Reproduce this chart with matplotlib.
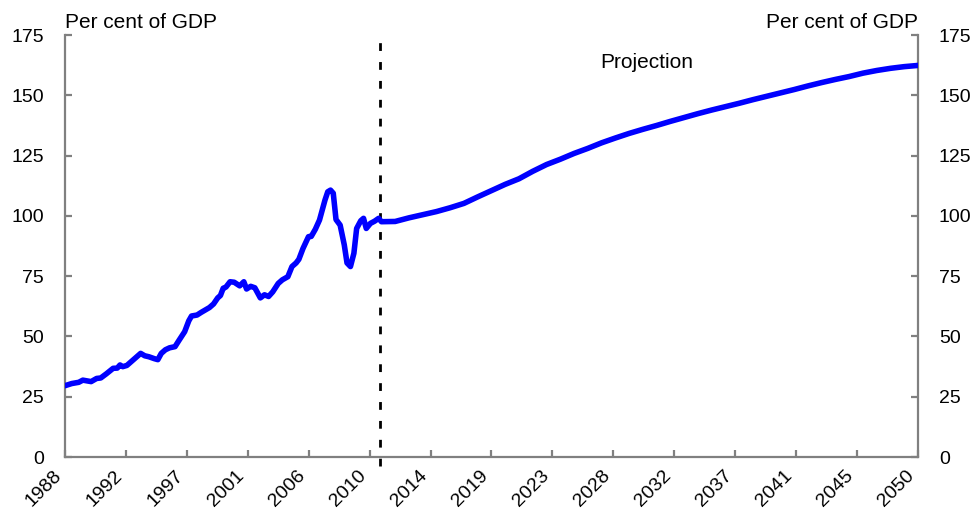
import numpy as np
import matplotlib
matplotlib.use("Agg")
import matplotlib.pyplot as plt

# historical series, per cent of GDP
hist_years = [1988.0, 1988.5, 1989.0, 1989.3, 1989.9, 1990.3, 1990.6, 1991.0, 1991.5, 1991.8,
              1992.0, 1992.2, 1992.5, 1992.8, 1993.2, 1993.5, 1993.8, 1994.1, 1994.5, 1994.75,
              1995.0, 1995.3, 1995.6, 1996.0, 1996.3, 1996.7, 1997.0, 1997.2, 1997.6, 1997.9,
              1998.2, 1998.5, 1998.8, 1999.1, 1999.3, 1999.5, 1999.7, 2000.0, 2000.3, 2000.7,
              2001.0, 2001.2, 2001.5, 2001.8, 2002.2, 2002.5, 2002.8, 2003.1, 2003.5, 2003.8,
              2004.2, 2004.5, 2004.8, 2005.0, 2005.3, 2005.7, 2005.9, 2006.2, 2006.5, 2006.9,
              2007.1, 2007.3, 2007.5, 2007.7, 2008.0, 2008.3, 2008.5, 2008.75, 2009.0, 2009.2,
              2009.5, 2009.7, 2009.9, 2010.2, 2010.5, 2010.8]
hist_values = [29.6, 30.5, 31.0, 31.9, 31.3, 32.6, 32.8, 34.5, 36.8, 36.9,
               38.2, 37.5, 38.0, 39.5, 41.5, 43.0, 42.0, 41.6, 40.8, 40.4,
               43.0, 44.5, 45.3, 45.8, 48.5, 52.0, 56.5, 58.5, 58.9, 60.0,
               61.0, 62.0, 63.5, 66.0, 67.0, 70.0, 70.5, 72.7, 72.5, 71.0,
               72.7, 69.7, 70.8, 70.2, 66.0, 67.3, 66.6, 68.5, 72.0, 73.5,
               74.8, 79.0, 80.5, 82.0, 86.5, 91.4, 91.5, 94.5, 98.3, 106.6,
               110.0, 110.7, 109.4, 98.5, 96.2, 88.0, 80.5, 79.0, 84.5, 94.8,
               98.0, 99.0, 94.8, 96.9, 97.8, 99.0]

# projection, annual
proj_years = list(range(2011, 2051))
proj_values = [97.6, 97.7, 99.2, 100.5, 101.8, 103.4, 105.2, 107.9, 110.5, 113.1,
               115.4, 118.5, 121.3, 123.5, 125.9, 128.0, 130.3, 132.3, 134.2, 135.9,
               137.5, 139.2, 140.8, 142.4, 143.9, 145.3, 146.7, 148.2, 149.6, 151.0,
               152.4, 153.9, 155.3, 156.6, 157.8, 159.2, 160.3, 161.2, 161.9, 162.4]

tick_labels = ['1988', '1992', '1997', '2001', '2006', '2010', '2014', '2019',
               '2023', '2028', '2032', '2037', '2041', '2045', '2050']
projection_start = 2010.9

plt.rcParams['font.family'] = ['Liberation Sans', 'DejaVu Sans']
grey = '#808080'

fig = plt.figure(figsize=(9.74, 5.2), dpi=100)
ax = fig.add_axes([0.0667, 0.121, 0.8758, 0.8116])

ax.plot(hist_years + proj_years, hist_values + proj_values, color='#0000FF',
        lw=4.0, solid_joinstyle='round', solid_capstyle='round', zorder=3)
ax.axvline(projection_start, ymin=-0.02, ymax=0.988, color='black', lw=2.0,
           dashes=(2.8, 4.0), clip_on=False, zorder=2)

ax.set_xlim(1988, 2050)
ax.set_ylim(0, 175)
ax.set_xticks(np.linspace(1988, 2050, len(tick_labels)))
ax.set_xticklabels(tick_labels, rotation=45, ha='right')
ax.set_yticks(range(0, 176, 25))

for side in ['left', 'right', 'bottom']:
    ax.spines[side].set_color(grey)
    ax.spines[side].set_linewidth(1.6)
ax.spines['top'].set_visible(False)
ax.tick_params(axis='both', direction='in', length=5, width=1.6, color=grey,
               labelsize=14, labelcolor='black')
ax.tick_params(axis='y', right=True, labelright=True, pad=15)
ax.tick_params(axis='x', pad=7)

ax.text(0.0, 1.017, 'Per cent of GDP', transform=ax.transAxes, fontsize=15,
        ha='left', va='baseline')
ax.text(1.0, 1.017, 'Per cent of GDP', transform=ax.transAxes, fontsize=15,
        ha='right', va='baseline')
ax.text(2030.3, 163.8, 'Projection', fontsize=15, ha='center', va='center')

fig.savefig('out.png', dpi=100)
